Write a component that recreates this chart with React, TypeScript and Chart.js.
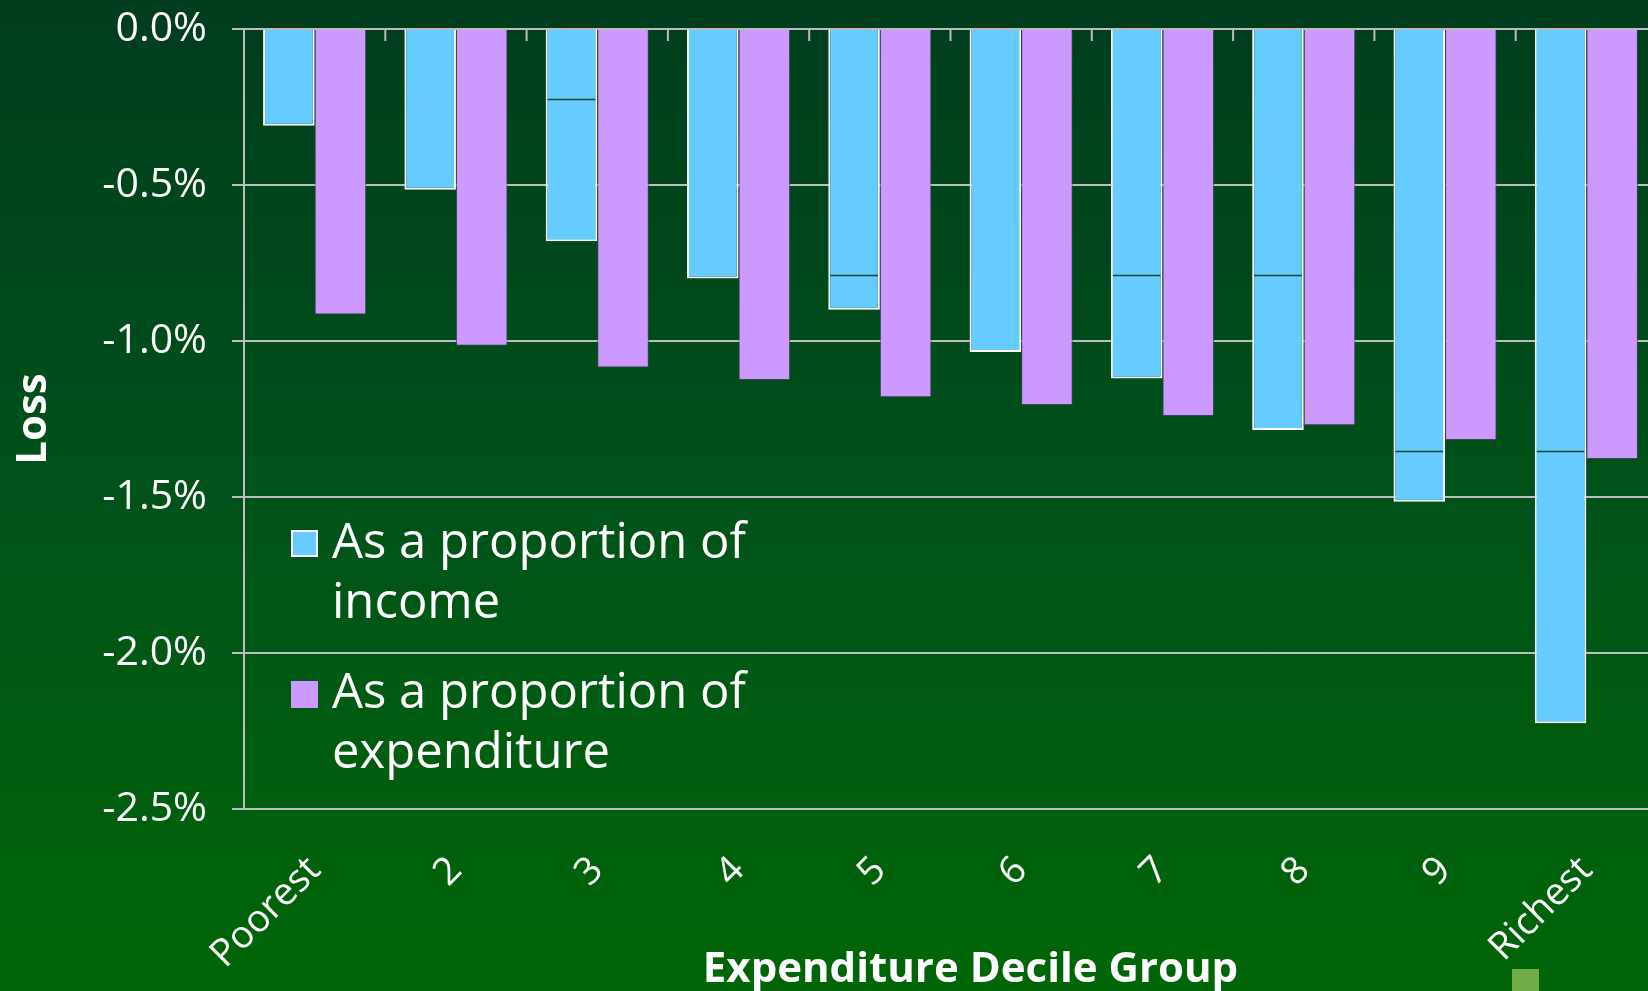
import React, { useEffect, useRef } from "react";
import { Chart, registerables } from "chart.js";

Chart.register(...registerables);

const categories = ["Poorest", "2", "3", "4", "5", "6", "7", "8", "9", "Richest"];
const incomeLoss = [-0.31, -0.515, -0.68, -0.80, -0.90, -1.035, -1.12, -1.285, -1.515, -2.225];
const expenditureLoss = [-0.915, -1.015, -1.085, -1.125, -1.18, -1.205, -1.24, -1.27, -1.317, -1.378];
const incomeDividers = [null, null, -0.225, null, -0.79, null, -0.79, -0.79, -1.354, -1.354];
const yTicks = [0, -0.5, -1.0, -1.5, -2.0, -2.5];
const legendLabels = [
  ["As a proportion of", "income"],
  ["As a proportion of", "expenditure"],
];
const xTitle = "Expenditure Decile Group";

const FONT = "'Open Sans', 'Noto Sans', sans-serif";
const BLUE = "#66CCFF";
const PURPLE = "#CC99FF";
const GRID = "#BDBDBD";

const decorPlugin = {
  id: "decor",
  beforeDatasetsDraw(chart: any) {
    const { ctx, chartArea, scales } = chart;
    const x = scales.x;
    ctx.save();
    ctx.strokeStyle = GRID;
    ctx.lineWidth = 2;
    for (let i = 1; i < categories.length; i++) {
      const px = (x.getPixelForValue(i - 1) + x.getPixelForValue(i)) / 2;
      ctx.beginPath();
      ctx.moveTo(px, chartArea.top);
      ctx.lineTo(px, chartArea.top + 12);
      ctx.stroke();
    }
    ctx.restore();
  },
  afterDatasetsDraw(chart: any) {
    const { ctx, scales } = chart;
    const y = scales.y;
    const meta = chart.getDatasetMeta(0);
    ctx.save();
    ctx.strokeStyle = "#0B4A2A";
    ctx.lineWidth = 1.5;
    meta.data.forEach((el: any, i: number) => {
      const v = incomeDividers[i];
      if (v === null || v === undefined) return;
      const py = Math.round(y.getPixelForValue(v)) + 0.5;
      ctx.beginPath();
      ctx.moveTo(el.x - el.width / 2 + 2, py);
      ctx.lineTo(el.x + el.width / 2 - 2, py);
      ctx.stroke();
    });
    ctx.restore();
  },
  afterDraw(chart: any) {
    const { ctx, chartArea, scales } = chart;
    const left = chartArea.left;
    const top = chartArea.top;
    const colors = [BLUE, PURPLE];
    const markerTops = [top + 501, top + 652];
    const baselines = [top + 529, top + 679];
    ctx.save();
    legendLabels.forEach((lines, k) => {
      const mx = left + 47;
      const my = markerTops[k];
      ctx.fillStyle = colors[k];
      ctx.fillRect(mx, my, 27, 27);
      if (k === 0) {
        ctx.strokeStyle = "#FFFFFF";
        ctx.lineWidth = 2;
        ctx.strokeRect(mx + 1, my + 1, 25, 25);
      }
      ctx.fillStyle = "#FFFFFF";
      ctx.font = `49px ${FONT}`;
      ctx.textAlign = "left";
      ctx.textBaseline = "alphabetic";
      lines.forEach((t, j) => {
        ctx.fillText(t, left + 88, baselines[k] + j * 60);
      });
    });
    // x-axis title
    ctx.font = `bold 42px ${FONT}`;
    ctx.textAlign = "center";
    ctx.textBaseline = "alphabetic";
    ctx.fillText(xTitle, (chartArea.left + chartArea.right) / 2 + 20, scales.x.bottom - 9);
    ctx.restore();
  },
};

export default function App() {
  const ref = useRef<HTMLCanvasElement | null>(null);

  useEffect(() => {
    if (!ref.current) return;
    const chart = new Chart(ref.current, {
      type: "bar",
      data: {
        labels: categories,
        datasets: [
          {
            label: "As a proportion of income",
            data: incomeLoss,
            backgroundColor: BLUE,
            borderColor: "#FFFFFF",
            borderWidth: 2,
            borderSkipped: "start",
            categoryPercentage: 0.73,
            barPercentage: 1.0,
          },
          {
            label: "As a proportion of expenditure",
            data: expenditureLoss,
            backgroundColor: PURPLE,
            borderColor: "rgba(70,70,90,0.8)",
            borderWidth: 1,
            borderSkipped: "start",
            categoryPercentage: 0.73,
            barPercentage: 1.0,
          },
        ],
      },
      options: {
        animation: false,
        responsive: false,
        maintainAspectRatio: false,
        layout: { padding: { left: 0, top: 29, right: 23, bottom: 0 } },
        plugins: {
          legend: { display: false },
          tooltip: { enabled: false },
        },
        scales: {
          x: {
            grid: { display: false },
            border: { display: false },
            ticks: {
              color: "#FFFFFF",
              font: { family: FONT, size: 38 },
              minRotation: 45,
              maxRotation: 45,
              autoSkip: false,
              padding: 31,
            },
            afterFit(scale: any) {
              scale.height = 182;
              scale.paddingLeft = 0;
              scale.paddingRight = 0;
            },
          },
          y: {
            min: -2.5,
            max: 0,
            afterBuildTicks(scale: any) {
              scale.ticks = yTicks.map((v) => ({ value: v }));
            },
            grid: { color: GRID, lineWidth: 2, tickLength: 12 },
            border: { display: true, color: GRID, width: 2 },
            ticks: {
              color: "#FFFFFF",
              font: { family: FONT, size: 41 },
              padding: 25,
              callback: (v: any) => `${Number(v).toFixed(1)}%`,
            },
            title: {
              display: true,
              text: "Loss",
              color: "#FFFFFF",
              font: { family: FONT, size: 42, weight: "bold" },
              padding: { top: 9, bottom: 0 },
            },
            afterFit(scale: any) {
              scale.width = 244;
              scale.paddingTop = 0;
              scale.paddingBottom = 0;
            },
          },
        },
      },
      plugins: [decorPlugin],
    });
    return () => chart.destroy();
  }, []);

  return (
    <div
      style={{
        position: "fixed",
        left: 0,
        top: 0,
        width: 1648,
        height: 991,
        overflow: "hidden",
        background: "linear-gradient(to bottom, #003D1D 0%, #00521A 50%, #006607 100%)",
      }}
    >
      <canvas ref={ref} width={1680} height={991} style={{ display: "block", width: 1680, height: 991 }} />
      <div
        style={{
          position: "absolute",
          left: 1512,
          top: 969,
          width: 27,
          height: 24,
          background: "#70AD47",
        }}
      />
    </div>
  );
}
